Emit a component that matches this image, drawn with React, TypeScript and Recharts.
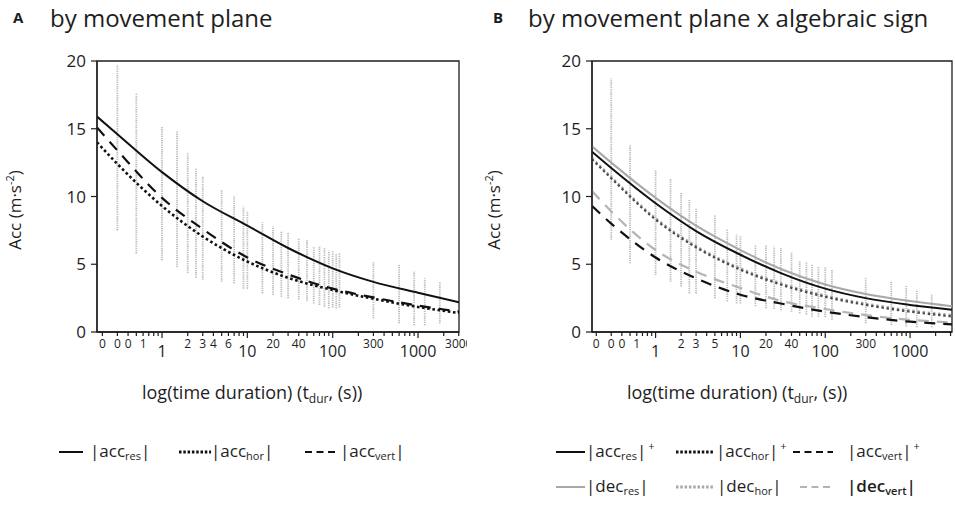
import React from 'react';
import { ComposedChart, Line, Scatter, ErrorBar, XAxis, YAxis, ReferenceArea } from 'recharts';

const FONT = '"Open Sans", "Noto Sans", sans-serif';
const INK = '#1e1e1e';

// ---------- axes ----------
const X_TICKS = [0.2, 0.3, 0.4, 0.5, 0.6, 0.7, 0.8, 0.9, 1, 2, 3, 4, 5, 6, 7, 8, 9, 10, 20, 30, 40, 50, 60, 70, 80, 90,
  100, 200, 300, 400, 500, 600, 700, 800, 900, 1000, 2000, 3000];
const MAJOR_TICKS = [1, 10, 100, 1000];
const TICK_LABELS_A: [number, string][] = [[0.2, '0'], [0.3, '0'], [0.4, '0'], [0.6, '1'], [1, '1'], [2, '2'], [3, '3'], [4, '4'], [6, '6'],
  [10, '10'], [20, '20'], [40, '40'], [100, '100'], [300, '300'], [1000, '1000'], [3000, '3000']];
const TICK_LABELS_B: [number, string][] = [[0.2, '0'], [0.3, '0'], [0.4, '0'], [0.6, '1'], [1, '1'], [2, '2'], [3, '3'], [5, '5'],
  [10, '10'], [20, '20'], [40, '40'], [100, '100'], [300, '300'], [1000, '1000']];
const Y_TICKS = [0, 5, 10, 15, 20];
const DOMAIN_A: [number, number] = [0.173, 3020];
const DOMAIN_B: [number, number] = [0.178, 3120];

// ---------- panel A data ----------
const CURVE_X_A = [0.173, 0.3, 1, 3, 10, 30, 100, 300, 1000, 3020];
const ACC_RES_A = [15.9, 14.6, 11.8, 9.65, 7.85, 6.2, 4.7, 3.7, 2.9, 2.2];
const ACC_HOR_A = [14.0, 12.4, 9.3, 7.05, 5.2, 4.0, 3.1, 2.45, 1.85, 1.4];
const ACC_VERT_A = [15.1, 13.4, 9.9, 7.6, 5.5, 4.25, 3.2, 2.55, 1.95, 1.5];

const STRIP_X_A = [0.3, 0.5, 1, 1.5, 2, 2.5, 3, 5, 7, 9, 10, 15, 20, 25, 30, 40, 50, 60, 70, 80, 90, 100, 110, 120, 300, 600, 900, 1200, 1800];
const STRIP_LO_A = [7.5, 5.8, 5.3, 4.8, 4.35, 4.0, 3.85, 3.7, 3.6, 3.2, 3.2, 2.85, 2.73, 2.6, 2.5, 2.4, 2.3, 2.1, 2.0, 1.87, 1.75, 1.8, 1.75, 1.8, 1.0, 0.64, 0.5, 0.5, 0.64];
const STRIP_HI_A = [19.7, 17.6, 15.15, 14.8, 13.2, 12.1, 11.5, 10.5, 10.0, 9.25, 8.9, 8.1, 7.8, 7.4, 7.3, 6.9, 6.8, 6.3, 6.3, 6.2, 6.0, 6.0, 5.8, 5.85, 5.2, 4.95, 4.45, 3.96, 3.7];

// ---------- panel B data ----------
const CURVE_X_B = [0.178, 0.3, 1, 3, 10, 30, 100, 300, 1000, 3120];
const ACC_RES_POS_B = [13.3, 12.1, 9.5, 7.45, 5.7, 4.35, 3.2, 2.5, 2.0, 1.65];
const ACC_HOR_POS_B = [12.75, 11.35, 8.3, 6.25, 4.6, 3.5, 2.6, 2.0, 1.5, 1.15];
const ACC_VERT_POS_B = [9.3, 8.0, 5.5, 3.96, 2.75, 2.1, 1.5, 1.1, 0.76, 0.57];
const DEC_RES_B = [13.7, 12.5, 9.9, 7.85, 6.05, 4.65, 3.5, 2.8, 2.28, 1.9];
const DEC_HOR_B = [12.85, 11.45, 8.4, 6.35, 4.7, 3.6, 2.7, 2.1, 1.6, 1.25];
const DEC_VERT_B = [10.4, 8.9, 6.05, 4.45, 3.25, 2.3, 1.7, 1.25, 0.9, 0.7];

const STRIP_X_B = [0.3, 0.5, 1, 1.5, 2, 2.5, 3, 5, 7, 9, 10, 15, 20, 25, 30, 40, 50, 60, 70, 83, 100, 120, 300, 600, 900, 1200, 1800];
const STRIP_LO_B = [6.8, 5.07, 4.2, 3.7, 3.35, 2.85, 2.85, 2.5, 2.25, 2.1, 2.1, 1.9, 1.75, 1.7, 1.6, 1.5, 1.38, 1.3, 1.13, 1.13, 1.1, 0.9, 0.64, 0.52, 0.4, 0.35, 0.35];
const STRIP_HI_B = [18.7, 13.8, 11.95, 11.3, 10.3, 9.75, 9.1, 8.6, 7.6, 7.2, 7.1, 6.4, 6.4, 6.3, 6.2, 5.9, 5.2, 5.2, 4.95, 4.8, 4.8, 4.6, 3.96, 3.76, 3.4, 3.1, 2.8];

// ---------- legend labels ----------
const LEGEND_A = [
  { base: 'acc', sub: 'res', sup: '' },
  { base: 'acc', sub: 'hor', sup: '' },
  { base: 'acc', sub: 'vert', sup: '' },
];
const LEGEND_B_ROW1 = [
  { base: 'acc', sub: 'res', sup: '+' },
  { base: 'acc', sub: 'hor', sup: '+' },
  { base: 'acc', sub: 'vert', sup: '+' },
];
const LEGEND_B_ROW2 = [
  { base: 'dec', sub: 'res', sup: '' },
  { base: 'dec', sub: 'hor', sup: '' },
  { base: 'dec', sub: 'vert', sup: '' },
];

// ---------- styles ----------
const BLACK = '#111111';
const GRAY = '#a8a8a8';
const SOLID = { dash: undefined as string | undefined, width: 2 };
const DOTTED = { dash: '2.6 2.6', width: 2.6 };
const DOTTED_B = { dash: '2.4 2.8', width: 2.2 };
const DASHED = { dash: '11 8', width: 2.2 };

type CurveDef = { key: string; xs: number[]; ys: number[]; color: string; dash?: string; width: number };

const CURVES_A: CurveDef[] = [
  { key: 'accResA', xs: CURVE_X_A, ys: ACC_RES_A, color: BLACK, ...SOLID },
  { key: 'accHorA', xs: CURVE_X_A, ys: ACC_HOR_A, color: BLACK, ...DOTTED },
  { key: 'accVertA', xs: CURVE_X_A, ys: ACC_VERT_A, color: BLACK, ...DASHED },
];
const CURVES_B: CurveDef[] = [
  { key: 'decVertB', xs: CURVE_X_B, ys: DEC_VERT_B, color: '#b4b4b4', ...DASHED },
  { key: 'decHorB', xs: CURVE_X_B, ys: DEC_HOR_B, color: GRAY, ...DOTTED_B },
  { key: 'decResB', xs: CURVE_X_B, ys: DEC_RES_B, color: GRAY, ...SOLID },
  { key: 'accVertB', xs: CURVE_X_B, ys: ACC_VERT_POS_B, color: BLACK, ...DASHED },
  { key: 'accHorB', xs: CURVE_X_B, ys: ACC_HOR_POS_B, color: '#4a4a4a', ...DOTTED_B },
  { key: 'accResB', xs: CURVE_X_B, ys: ACC_RES_POS_B, color: BLACK, ...SOLID },
];

type PanelProps = {
  left: number;
  width: number;
  margin: { top: number; right: number; bottom: number; left: number };
  domain: [number, number];
  labels: [number, string][];
  stripX: number[];
  stripLo: number[];
  stripHi: number[];
  curves: CurveDef[];
};

function Panel({ left, width, margin, domain, labels, stripX, stripLo, stripHi, curves }: PanelProps) {
  const stripData = stripX.map((x, i) => ({ x, y: stripLo[i], e: [0, stripHi[i] - stripLo[i]] }));
  const labelMap = new Map(labels);
  const renderTick = (p: any) => {
    const { x, y, payload } = p;
    const v = payload.value as number;
    const major = MAJOR_TICKS.includes(v);
    const label = labelMap.get(v);
    return (
      <g>
        <line x1={x} x2={x} y1={y} y2={y + (major ? 6 : 4)} stroke={INK} strokeWidth={1.2} />
        {label !== undefined && (
          <text x={x} y={y + (major ? 25 : 16)} textAnchor="middle" fontSize={major ? 16 : 12}
            fontFamily={FONT} fill={INK}>{label}</text>
        )}
      </g>
    );
  };
  return (
    <div style={{ position: 'absolute', left, top: 0 }}>
      <ComposedChart width={width} height={400} margin={margin}>
        <XAxis dataKey="x" type="number" scale="log" domain={domain} allowDataOverflow ticks={X_TICKS}
          interval={0} tick={renderTick} tickLine={false} tickSize={0} tickMargin={0} height={40}
          axisLine={{ stroke: INK, strokeWidth: 1.3 }} />
        <YAxis type="number" domain={[0, 20]} ticks={Y_TICKS} interval={0} width={40} tickSize={6} tickMargin={5}
          tick={{ fontSize: 17, fill: INK, fontFamily: FONT }} tickLine={{ stroke: INK, strokeWidth: 1.2 }}
          axisLine={{ stroke: INK, strokeWidth: 1.3 }} />
        <ReferenceArea x1={domain[0]} x2={domain[1]} y1={0} y2={20} fill="none" stroke={INK} strokeWidth={1.3} />
        <Scatter data={stripData} dataKey="y" shape={() => <g />} isAnimationActive={false}>
          <ErrorBar dataKey="e" direction="y" width={0} stroke="#bdbdbd" strokeWidth={1.8}
            strokeDasharray="1.3 0.9" isAnimationActive={false} />
        </Scatter>
        {curves.map((c) => (
          <Line key={c.key} data={c.xs.map((x, i) => ({ x, v: c.ys[i] }))} dataKey="v" type="monotone"
            stroke={c.color} strokeWidth={c.width} strokeDasharray={c.dash} dot={false} activeDot={false}
            isAnimationActive={false} />
        ))}
      </ComposedChart>
    </div>
  );
}

const textBase: React.CSSProperties = { position: 'absolute', fontFamily: FONT, color: INK, whiteSpace: 'nowrap' };

function LegendLabel({ base, sub, sup, bold }: { base: string; sub: string; sup: string; bold?: boolean }) {
  return (
    <span style={{ fontWeight: bold ? 600 : 400 }}>
      |{base}
      <span style={{ fontSize: 11, position: 'relative', top: 3 }}>{sub}</span>|
      {sup && <span style={{ fontSize: 11, position: 'relative', top: -7, marginLeft: 2 }}>{sup}</span>}
    </span>
  );
}

function Sample({ x, y, w, color, dash, width }: { x: number; y: number; w: number; color: string; dash?: string; width: number }) {
  return (
    <svg style={{ position: 'absolute', left: x, top: y - 5 }} width={w} height={10}>
      <line x1={0} x2={w} y1={5} y2={5} stroke={color} strokeWidth={width} strokeDasharray={dash} />
    </svg>
  );
}

const LEG_STYLE = [
  { dash: undefined as string | undefined, width: 2 },
  { dash: '2.5 1.8', width: 3 },
  { dash: '7 4.5', width: 2.2 },
];

export default function App() {
  const legA = [{ lx: 59, lw: 24, tx: 90 }, { lx: 179, lw: 32, tx: 211 }, { lx: 305, lw: 32, tx: 340 }];
  const legB1 = [{ lx: 556, lw: 29, tx: 586 }, { lx: 676, lw: 37, tx: 716 }, { lx: 793, lw: 40, tx: 847 }];
  const legB2 = [{ lx: 556, lw: 29, tx: 586 }, { lx: 676, lw: 37, tx: 717 }, { lx: 800, lw: 33, tx: 847 }];
  return (
    <div style={{ position: 'absolute', left: 0, top: 0, width: 955, height: 505, background: '#fff', overflow: 'hidden' }}>
      {/* titles */}
      <div style={{ ...textBase, left: 13, top: 10, fontSize: 15, lineHeight: '15px', fontWeight: 700 }}>A</div>
      <div style={{ ...textBase, left: 50, top: 6, fontSize: 24, lineHeight: '24px' }}>by movement plane</div>
      <div style={{ ...textBase, left: 493, top: 10, fontSize: 15, lineHeight: '15px', fontWeight: 700 }}>B</div>
      <div style={{ ...textBase, left: 528, top: 6, fontSize: 24, lineHeight: '24px' }}>by movement plane x algebraic sign</div>

      <Panel left={0} width={467} margin={{ top: 61, right: 8, bottom: 28, left: 57 }} domain={DOMAIN_A}
        labels={TICK_LABELS_A} stripX={STRIP_X_A} stripLo={STRIP_LO_A} stripHi={STRIP_HI_A} curves={CURVES_A} />
      <Panel left={480} width={475} margin={{ top: 61, right: 3, bottom: 28, left: 72 }} domain={DOMAIN_B}
        labels={TICK_LABELS_B} stripX={STRIP_X_B} stripLo={STRIP_LO_B} stripHi={STRIP_HI_B} curves={CURVES_B} />

      {/* y-axis labels */}
      {[15, 494].map((cx) => (
        <div key={cx} style={{ ...textBase, left: cx, top: 210, fontSize: 17, lineHeight: '17px',
          transform: 'translate(-50%, -50%) rotate(-90deg)' }}>
          Acc (m·s<span style={{ fontSize: 11, position: 'relative', top: -7 }}>-2</span>)
        </div>
      ))}

      {/* x-axis labels */}
      {[142, 627].map((lx) => (
        <div key={lx} style={{ ...textBase, left: lx, top: 383, fontSize: 18, lineHeight: '18px' }}>
          log(time duration) (t<span style={{ fontSize: 12, position: 'relative', top: 4 }}>dur</span>, (s))
        </div>
      ))}

      {/* legend A */}
      {LEGEND_A.map((it, i) => (
        <React.Fragment key={'a' + i}>
          <Sample x={legA[i].lx} y={452} w={legA[i].lw} color={BLACK} dash={LEG_STYLE[i].dash} width={LEG_STYLE[i].width} />
          <div style={{ ...textBase, left: legA[i].tx, top: 442, fontSize: 17, lineHeight: '17px' }}>
            <LegendLabel {...it} />
          </div>
        </React.Fragment>
      ))}
      {/* legend B */}
      {LEGEND_B_ROW1.map((it, i) => (
        <React.Fragment key={'b1' + i}>
          <Sample x={legB1[i].lx} y={452} w={legB1[i].lw} color={BLACK} dash={LEG_STYLE[i].dash} width={LEG_STYLE[i].width} />
          <div style={{ ...textBase, left: legB1[i].tx, top: 442, fontSize: 17, lineHeight: '17px' }}>
            <LegendLabel {...it} />
          </div>
        </React.Fragment>
      ))}
      {LEGEND_B_ROW2.map((it, i) => (
        <React.Fragment key={'b2' + i}>
          <Sample x={legB2[i].lx} y={487} w={legB2[i].lw} color={i === 2 ? '#b4b4b4' : GRAY} dash={LEG_STYLE[i].dash} width={LEG_STYLE[i].width} />
          <div style={{ ...textBase, left: legB2[i].tx, top: 477, fontSize: 17, lineHeight: '17px' }}>
            <LegendLabel {...it} bold={i === 2} />
          </div>
        </React.Fragment>
      ))}
    </div>
  );
}
